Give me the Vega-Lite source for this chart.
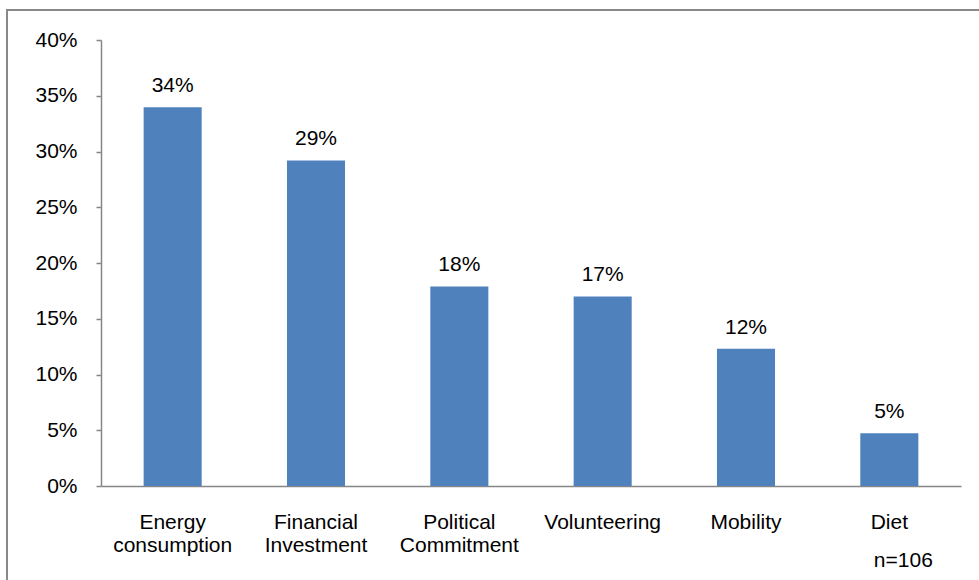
{
  "$schema": "https://vega.github.io/schema/vega-lite/v6.json",
  "width": 980,
  "height": 580,
  "autosize": "none",
  "padding": {"left": 7, "top": 10, "right": 0, "bottom": 0},
  "background": "white",
  "config": {
    "view": {"stroke": "#898989", "strokeWidth": 2},
    "font": "Liberation Sans",
    "axis": {"grid": false, "labelFont": "Liberation Sans", "labelColor": "#000000", "domainColor": "#868686", "tickColor": "#868686", "domainWidth": 1.5, "tickWidth": 1.5, "title": null}
  },
  "data": {
    "values": [
      {"category": "Energy consumption", "share": 0.3397},
      {"category": "Financial Investment", "share": 0.292},
      {"category": "Political Commitment", "share": 0.179},
      {"category": "Volunteering", "share": 0.170},
      {"category": "Mobility", "share": 0.123},
      {"category": "Diet", "share": 0.0473}
    ]
  },
  "layer": [
    {
      "mark": {"type": "bar", "color": "#4F81BD"},
      "encoding": {
        "x": {
          "field": "category",
          "type": "nominal",
          "sort": null,
          "scale": {"range": [94, 954], "paddingInner": 0.595, "paddingOuter": 0.2975},
          "axis": {
            "orient": "bottom",
            "offset": -104,
            "labelAngle": 0,
            "ticks": false,
            "labelPadding": 25,
            "labelFontSize": 21,
            "labelLineHeight": 23,
            "labelBaseline": "top",
            "labelExpr": "split(datum.label, ' ')"
          }
        },
        "y": {
          "field": "share",
          "type": "quantitative",
          "scale": {"domain": [0, 0.4], "range": [476, 30], "nice": false},
          "axis": {
            "orient": "left",
            "offset": -94,
            "values": [0, 0.05, 0.1, 0.15, 0.2, 0.25, 0.3, 0.35, 0.4],
            "format": ".0%",
            "tickSize": 5,
            "labelPadding": 19,
            "labelFontSize": 21
          }
        }
      }
    },
    {
      "mark": {"type": "text", "fontSize": 21, "color": "#000000", "baseline": "alphabetic", "dy": -15},
      "encoding": {
        "x": {"field": "category", "type": "nominal", "sort": null},
        "y": {"field": "share", "type": "quantitative"},
        "text": {"field": "share", "type": "quantitative", "format": ".0%"}
      }
    },
    {
      "mark": {"type": "text", "fontSize": 21, "color": "#000000", "baseline": "alphabetic", "dx": 14, "dy": 81},
      "transform": [{"filter": "datum.category === 'Diet'"}],
      "encoding": {
        "x": {"field": "category", "type": "nominal", "sort": null},
        "y": {"datum": 0},
        "text": {"value": "n=106"}
      }
    }
  ]
}
